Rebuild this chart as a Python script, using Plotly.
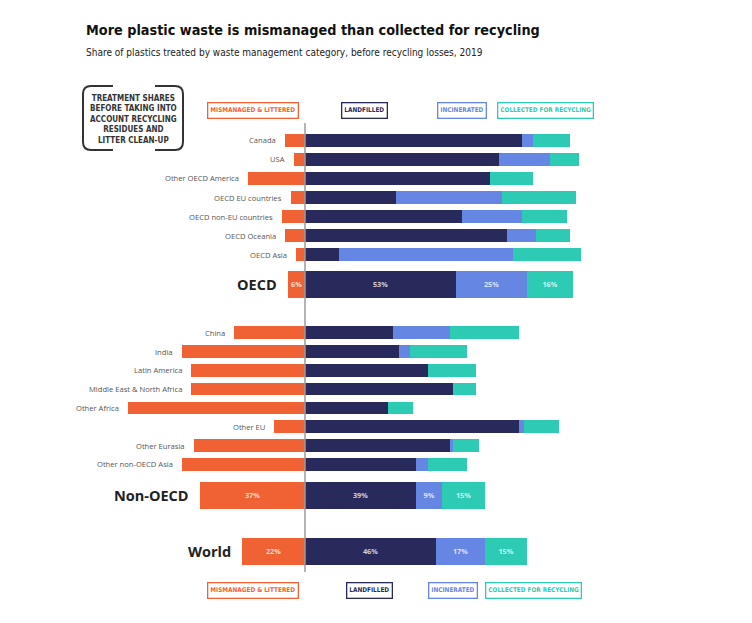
import plotly.graph_objects as go

W, H = 752, 623

categories = ["Canada", "USA", "Other OECD America", "OECD EU countries",
              "OECD non-EU countries", "OECD Oceania", "OECD Asia", "OECD",
              "China", "India", "Latin America", "Middle East & North Africa",
              "Other Africa", "Other EU", "Other Eurasia", "Other non-OECD Asia",
              "Non-OECD", "World"]
groups = ["OECD", "Non-OECD", "World"]

mismanaged = [7, 4, 20, 5, 8, 7, 3, 6, 25, 43, 40, 40, 62, 11, 39, 43, 37, 22]
landfilled = [76, 68, 65, 32, 55, 71, 12, 53, 31, 33, 43, 52, 29, 75, 51, 39, 39, 46]
incinerated = [4, 18, 0, 37, 21, 10, 61, 25, 20, 4, 0, 0, 0, 2, 1, 4, 9, 17]
recycled = [13, 10, 15, 26, 16, 12, 24, 16, 24, 20, 17, 8, 9, 12, 9, 14, 15, 15]

series_names = ["MISMANAGED & LITTERED", "LANDFILLED", "INCINERATED", "COLLECTED FOR RECYCLING"]
colors = ["#F06134", "#272A5B", "#6586E2", "#2ECBB4"]

COND = "DejaVu Sans Condensed, Roboto, sans-serif"

# ---- layout helpers (pixel -> data / paper) ----
PX_PER_PCT = 2.85
ZERO_PX = 305
x_range = [-ZERO_PX / PX_PER_PCT, (W - ZERO_PX) / PX_PER_PCT]


def px(x):
    return x / W


def py(y):
    return 1 - y / H


# row centres (pixel rows), computed from order and group gaps
centres = []
y = 140.3
for i, c in enumerate(categories):
    if i == 0:
        pass
    elif c == "OECD":
        y += 29.6
    elif c == "China":
        y += 48.4
    elif c == "Non-OECD":
        y += 30.7
    elif c == "World":
        y += 56.3
    elif i < 7:
        y += 19.07
    else:
        y += 18.8
    centres.append(y)

widths = [27 if c in groups else 12.7 for c in categories]


def txt(vals):
    return ["<b>%d%%</b>" % v if (c in groups and v > 0) else "" for c, v in zip(categories, vals)]


fig = go.Figure()
all_vals = [[-v for v in mismanaged], landfilled, incinerated, recycled]
raw_vals = [mismanaged, landfilled, incinerated, recycled]
for name, vals, raw, col in zip(series_names, all_vals, raw_vals, colors):
    fig.add_trace(go.Bar(
        y=centres, x=vals, orientation="h", width=widths,
        marker=dict(color=col, line=dict(width=0)),
        name=name, text=txt(raw), textposition="inside",
        insidetextanchor="middle", textangle=0,
        textfont=dict(family="Open Sans", size=8.5, color="rgba(255,255,255,0.78)"),
        hoverinfo="skip", showlegend=False, cliponaxis=False,
    ))

annotations = []
# category labels
for c, m, yc in zip(categories, mismanaged, centres):
    if c in groups:
        annotations.append(dict(x=-m, y=yc, xref="x", yref="y", text="<b>%s</b>" % c,
                                xanchor="right", yanchor="middle", xshift=-9, showarrow=False,
                                font=dict(family="Open Sans", size=14.5, color="#222222")))
    else:
        annotations.append(dict(x=-m, y=yc, xref="x", yref="y", text=c,
                                xanchor="right", yanchor="middle", xshift=-7, showarrow=False,
                                font=dict(family="Open Sans", size=7.6, color="#555555")))

# title & subtitle
annotations.append(dict(x=px(84), y=py(30), xref="paper", yref="paper",
                        text="<b>More plastic waste is mismanaged than collected for recycling</b>",
                        xanchor="left", yanchor="middle", showarrow=False,
                        font=dict(family=COND, size=14.3, color="#111111")))
annotations.append(dict(x=px(84), y=py(52), xref="paper", yref="paper",
                        text="Share of plastics treated by waste management category, before recycling losses, 2019",
                        xanchor="left", yanchor="middle", showarrow=False,
                        font=dict(family=COND, size=10, color="#222222")))

# note box text
annotations.append(dict(x=px(133), y=py(119), xref="paper", yref="paper",
                        text="<b>TREATMENT SHARES<br>BEFORE TAKING INTO<br>ACCOUNT RECYCLING<br>RESIDUES AND<br>LITTER CLEAN-UP</b>",
                        xanchor="center", yanchor="middle", showarrow=False, align="center",
                        font=dict(family=COND, size=8, color="#333333")))

# legend boxes (top and bottom)
top_centres = [252.5, 364.5, 462, 545.5]
bot_centres = [253, 369, 453, 533.5]
for (cx_list, yc) in [(top_centres, 110.5), (bot_centres, 590.5)]:
    for name, col, cx in zip(series_names, colors, cx_list):
        annotations.append(dict(x=px(cx), y=py(yc), xref="paper", yref="paper",
                                text="<b>%s</b>" % name, showarrow=False,
                                xanchor="center", yanchor="middle", borderpad=2, height=10,
                                bordercolor=col, borderwidth=1.3, bgcolor="white",
                                font=dict(family=COND, size=6.4, color=col)))


def path(points):
    s = ""
    for cmd, coords in points:
        s += cmd + " " + " ".join("%.5f,%.5f" % (px(a), py(b)) for a, b in coords) + " "
    return s


shapes = [
    dict(type="line", xref="x", yref="paper", x0=0, x1=0, y0=py(123), y1=py(572),
         line=dict(color="#9a9a9a", width=1.5), layer="above"),
    dict(type="path", xref="paper", yref="paper", layer="above",
         path=path([("M", [(113, 86)]), ("L", [(91, 86)]), ("Q", [(83, 86), (83, 94)]),
                    ("L", [(83, 142)]), ("Q", [(83, 150), (91, 150)]), ("L", [(113, 150)])]),
         line=dict(color="#333333", width=2)),
    dict(type="path", xref="paper", yref="paper", layer="above",
         path=path([("M", [(155, 86)]), ("L", [(175, 86)]), ("Q", [(183, 86), (183, 94)]),
                    ("L", [(183, 142)]), ("Q", [(183, 150), (175, 150)]), ("L", [(155, 150)])]),
         line=dict(color="#333333", width=2)),
]

fig.update_layout(
    width=W, height=H, margin=dict(l=0, r=0, t=0, b=0),
    paper_bgcolor="white", plot_bgcolor="white",
    barmode="relative", bargap=0,
    xaxis=dict(range=x_range, visible=False, fixedrange=True),
    yaxis=dict(range=[H, 0], visible=False, fixedrange=True),
    annotations=annotations, shapes=shapes,
    uniformtext=dict(minsize=6, mode="show"),
)

fig.write_html("out.html")
